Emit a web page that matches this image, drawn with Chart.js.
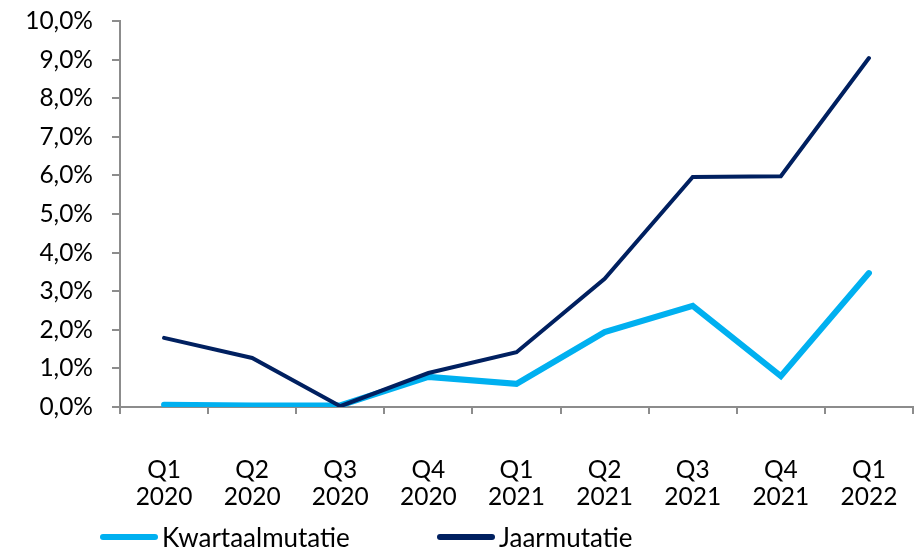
<!DOCTYPE html>
<html lang="nl">
<head>
  <meta charset="UTF-8" />
  <title>Kwartaal- en jaarmutatie</title>
  <script src="https://cdn.jsdelivr.net/npm/chart.js"></script>
  <style>
    body { margin: 0; background: #fff; font-family: Lato, sans-serif; }
    .wrap { position: relative; width: 921px; height: 548px; overflow: hidden; }
    canvas { position: absolute; left: 0; top: 0; }
    .legenda { position: absolute; top: 522px; left: 0; width: 921px; height: 30px; font-size: 26px; line-height: 30px; color: #000; }
    .item { position: absolute; top: 0; display: flex; align-items: center; height: 30px; }
    .lijn { display: inline-block; width: 58px; height: 6px; border-radius: 3px; margin-right: 4px; }
  </style>
</head>
<body>

<div class="wrap">
  <canvas id="grafiek" width="921" height="548"></canvas>
  <div class="legenda">
    <div class="item" style="left:100px"><span class="lijn" style="background:#00B0F0"></span>Kwartaalmutatie</div>
    <div class="item" style="left:437px"><span class="lijn" style="background:#002060"></span>Jaarmutatie</div>
  </div>
</div>

<script>
  // Data (in procenten)
  const kwartalen = [
    ['Q1', '2020'], ['Q2', '2020'], ['Q3', '2020'], ['Q4', '2020'],
    ['Q1', '2021'], ['Q2', '2021'], ['Q3', '2021'], ['Q4', '2021'],
    ['Q1', '2022']
  ];
  const kwartaalmutatie = [0.06, 0.04, 0.04, 0.78, 0.60, 1.94, 2.62, 0.80, 3.47];
  const jaarmutatie = [1.79, 1.27, 0.02, 0.88, 1.42, 3.32, 5.96, 5.98, 9.04];

  const asKleur = '#8c8c8c';
  const lettertype = { family: 'Lato', size: 24.5 };

  new Chart(document.getElementById('grafiek'), {
    type: 'line',
    data: {
      labels: kwartalen,
      datasets: [
        {
          label: 'Kwartaalmutatie',
          data: kwartaalmutatie,
          borderColor: '#00B0F0',
          backgroundColor: '#00B0F0',
          borderWidth: 6,
          pointRadius: 0,
          tension: 0,
          borderCapStyle: 'round',
          order: 1
        },
        {
          label: 'Jaarmutatie',
          data: jaarmutatie,
          borderColor: '#002060',
          backgroundColor: '#002060',
          borderWidth: 4,
          pointRadius: 0,
          tension: 0,
          borderCapStyle: 'round',
          order: 0
        }
      ]
    },
    options: {
      responsive: false,
      animation: false,
      layout: { padding: { top: 21, right: 8, bottom: 30, left: 0 } },
      plugins: {
        legend: { display: false },
        tooltip: { enabled: false }
      },
      scales: {
        x: {
          offset: true,
          grid: { offset: true, drawOnChartArea: false, drawTicks: true, tickLength: 7, color: asKleur, lineWidth: 2 },
          border: { color: asKleur, width: 2 },
          ticks: { color: '#000', font: { ...lettertype, lineHeight: 1.1 }, padding: 43, maxRotation: 0, autoSkip: false },
          afterFit: s => { s.height = 111; s.paddingLeft = 0; s.paddingRight = 0; }
        },
        y: {
          min: 0,
          max: 10,
          grid: { drawOnChartArea: false, drawTicks: true, tickLength: 8, color: asKleur, lineWidth: 2 },
          border: { color: asKleur, width: 2 },
          ticks: {
            stepSize: 1,
            color: '#000',
            font: lettertype,
            padding: 19,
            callback: v => v.toFixed(1).replace('.', ',') + '%'
          },
          afterFit: s => { s.width = 120; s.paddingTop = 0; s.paddingBottom = 0; }
        }
      }
    }
  });
</script>

</body>
</html>
